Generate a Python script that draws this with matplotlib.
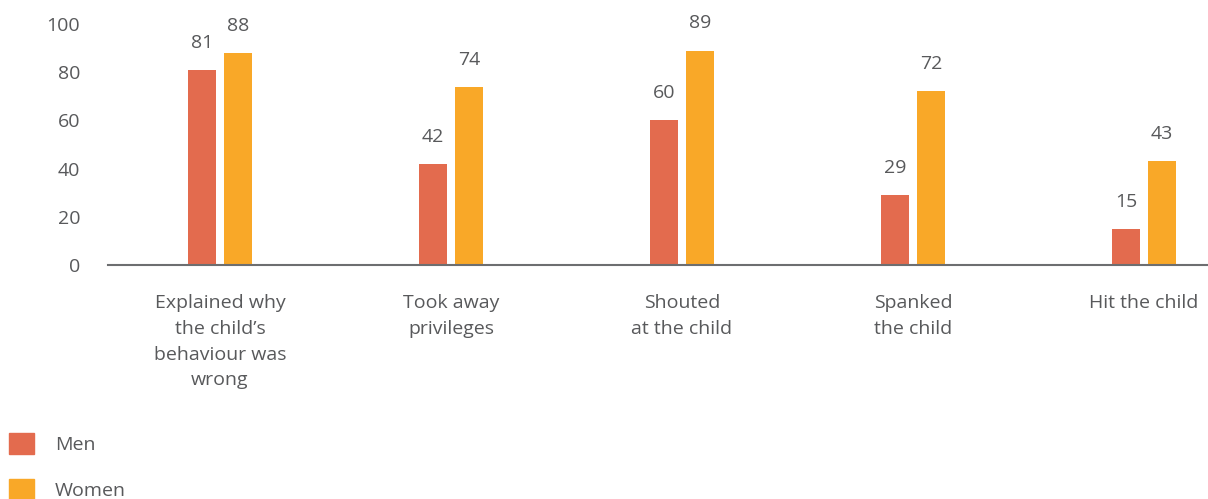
import numpy as np
import matplotlib.pyplot as plt
from matplotlib.patches import Patch

categories = ['Explained why\nthe child\u2019s\nbehaviour was\nwrong', 'Took away\nprivileges',
              'Shouted\nat the child', 'Spanked\nthe child', 'Hit the child']
men = [81, 42, 60, 29, 15]
women = [88, 74, 89, 72, 43]
yticks = [0, 20, 40, 60, 80, 100]

men_color = '#E36B4E'
women_color = '#F9A828'
text_color = '#58595b'

plt.rcParams['font.family'] = ['Open Sans', 'DejaVu Sans']

fig = plt.figure(figsize=(12.08, 4.99), dpi=100)
ax = fig.add_axes([108/1208, 1-265/499, 1-108/1208, (265-24)/499])

x = np.arange(len(categories))
w = 28/231
off = 18/231
b1 = ax.bar(x - off, men, w, color=men_color)
b2 = ax.bar(x + off, women, w, color=women_color)

for bars, vals in [(b1, men), (b2, women)]:
    for r, v in zip(bars, vals):
        ax.annotate(str(v), (r.get_x() + r.get_width()/2, v), xytext=(0, 13),
                    textcoords='offset points', ha='center', va='bottom',
                    fontsize=14, color=text_color)

ax.set_xlim((108-220)/231, (1208-220)/231)
ax.set_ylim(0, 100)
ax.set_yticks(yticks)
ax.set_yticklabels([str(t) for t in yticks])
ax.set_xticks(x)
ax.set_xticklabels(categories, linespacing=1.55)
ax.tick_params(axis='both', length=0, labelsize=14, labelcolor=text_color)
ax.tick_params(axis='x', pad=21)
ax.tick_params(axis='y', pad=20)
for s in ['top', 'right', 'left']:
    ax.spines[s].set_visible(False)
ax.spines['bottom'].set_color('#6d6e70')
ax.spines['bottom'].set_linewidth(1.5)

handles = [Patch(color=men_color, label='Men'), Patch(color=women_color, label='Women')]
fig.legend(handles=handles, loc='upper left', bbox_to_anchor=(9/1208, 1-433/499),
           frameon=False, fontsize=14, labelcolor=text_color,
           borderaxespad=0, borderpad=0,
           handlelength=1.29, handleheight=1.29, handletextpad=1.08, labelspacing=1.3)

fig.savefig('out.png', dpi=100)
